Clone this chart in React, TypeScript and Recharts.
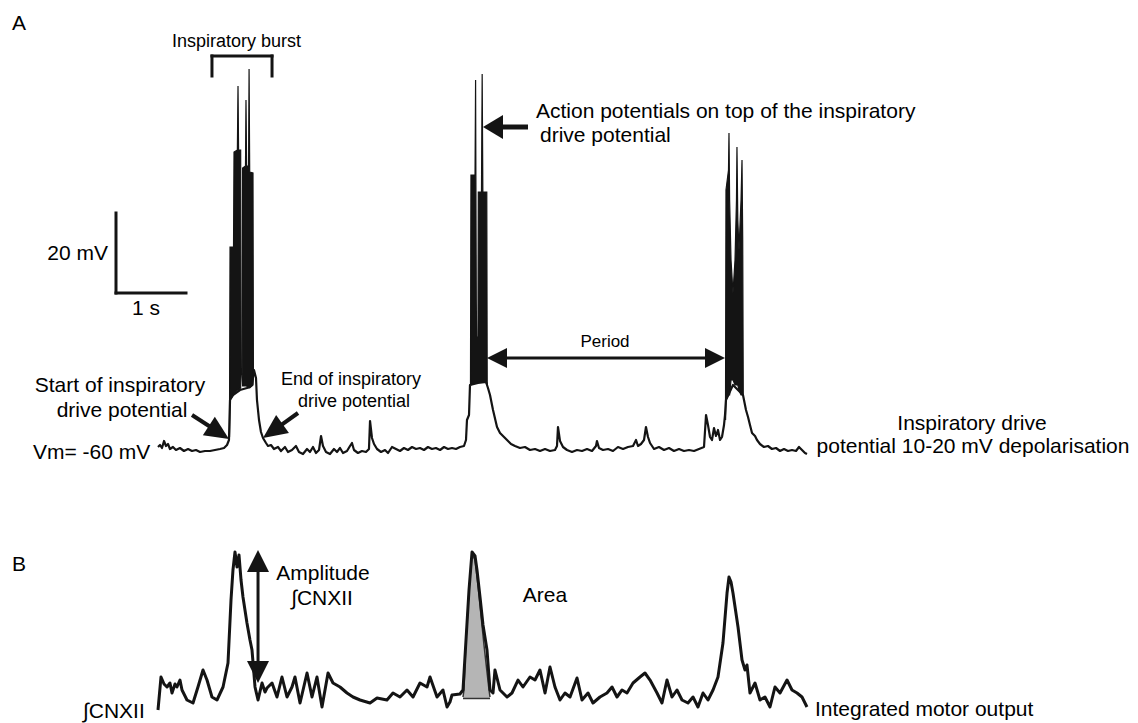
import React from 'react';
import { ComposedChart, Line, Area, XAxis, YAxis, ReferenceLine, ReferenceDot } from 'recharts';

const FONT = '"Liberation Sans", Arial, Helvetica, sans-serif';
const INK = '#141414';
const W = 1138;
const H = 723;

// axis domains: time (s), membrane potential (mV), integrated nerve output (a.u.)
const TIME_DOMAIN: [number, number] = [-2.2571, 14];
const MV_DOMAIN: [number, number] = [-128.25, 52.5];
const INT_DOMAIN: [number, number] = [-15.333, 466.667];

// Panel A: membrane potential trace [time s, mV]
const traceA: [number, number][] = [
  [0, -59.25], [0.029, -58.75], [0.057, -59.5], [0.086, -57.75], [0.114, -59], [0.143, -58.5],
  [0.171, -59.75], [0.214, -59.25], [0.257, -60], [0.314, -59.5], [0.371, -60.25], [0.429, -59.75],
  [0.486, -60.25], [0.543, -60], [0.6, -60.5], [0.671, -60.25], [0.743, -60.25], [0.814, -60],
  [0.886, -59.75], [0.943, -59.5], [0.986, -58.75], [1.014, -57.5], [1.029, -47.5], [1.071, -46.25],
  [1.171, -45], [1.271, -44.5], [1.343, -43.75], [1.371, -40], [1.4, -42], [1.414, -47.5],
  [1.443, -52.5], [1.471, -55.5], [1.5, -57], [1.543, -58.25], [1.571, -59], [1.614, -58.75],
  [1.657, -59.75], [1.714, -59.25], [1.757, -60.25], [1.814, -59.25], [1.857, -60.5], [1.914, -60],
  [1.971, -59], [2.014, -60.5], [2.071, -61], [2.129, -59.75], [2.171, -60.5], [2.214, -59.25],
  [2.257, -60.75], [2.3, -60], [2.329, -56.5], [2.357, -59], [2.4, -60.5], [2.457, -61],
  [2.514, -59.75], [2.557, -60.5], [2.6, -59.5], [2.643, -60.75], [2.7, -60.25], [2.743, -59],
  [2.771, -58.25], [2.8, -60], [2.857, -60.75], [2.914, -60.25], [2.971, -60.5], [3.014, -59.75],
  [3.029, -52.75], [3.057, -57], [3.086, -58.5], [3.129, -59.75], [3.186, -60.5], [3.243, -60],
  [3.286, -60.75], [3.343, -59.25], [3.4, -59.75], [3.457, -60.25], [3.514, -59.5], [3.571, -60],
  [3.629, -59.25], [3.686, -59.75], [3.743, -59.5], [3.8, -60], [3.857, -59.25], [3.914, -59.75],
  [3.971, -59.5], [4.029, -60], [4.086, -59.25], [4.143, -59.75], [4.2, -59.5], [4.257, -59.75],
  [4.314, -59.25], [4.371, -59], [4.4, -57.5], [4.414, -52.5], [4.443, -51.25], [4.457, -43.75],
  [4.571, -43.25], [4.686, -43], [4.714, -44.5], [4.743, -46.25], [4.786, -50], [4.843, -54.25],
  [4.886, -55.75], [4.943, -56.75], [4.986, -57.5], [5.043, -58.5], [5.1, -59], [5.171, -59.5],
  [5.243, -59.25], [5.314, -60], [5.386, -59.75], [5.457, -60.25], [5.529, -59.75], [5.6, -60.25],
  [5.671, -60], [5.7, -59], [5.714, -54.25], [5.743, -57.75], [5.786, -59.25], [5.843, -60],
  [5.914, -60.5], [5.986, -60], [6.057, -60.25], [6.129, -59.75], [6.2, -60.25], [6.257, -59],
  [6.271, -57.75], [6.3, -59.5], [6.357, -60], [6.429, -59.75], [6.5, -60.25], [6.571, -59.25],
  [6.643, -59.75], [6.714, -59.25], [6.786, -59], [6.829, -57.5], [6.857, -59], [6.9, -58.5],
  [6.943, -57.5], [6.971, -54.25], [7, -56.75], [7.029, -58.25], [7.086, -59.75], [7.157, -59.25],
  [7.229, -60], [7.3, -59.5], [7.371, -60.25], [7.443, -59.75], [7.514, -60.25], [7.586, -60],
  [7.657, -60.25], [7.729, -59.75], [7.8, -59.25], [7.829, -51.25], [7.857, -53.75], [7.886, -56.75],
  [7.914, -57.5], [7.943, -54.5], [7.971, -56.5], [8, -55], [8.029, -57.5], [8.057, -56.75],
  [8.086, -53.75], [8.1, -51.25], [8.114, -47.5], [8.214, -43.75], [8.357, -46.25], [8.4, -50],
  [8.429, -51.75], [8.457, -53.75], [8.486, -55.75], [8.529, -56.5], [8.557, -57.5], [8.6, -58.5],
  [8.657, -59.25], [8.714, -59], [8.771, -59.75], [8.829, -59.5], [8.886, -60.25], [8.943, -59.75],
  [9, -60.25], [9.057, -60], [9.114, -60.25], [9.157, -59.25], [9.2, -60], [9.243, -60.75], [9.271, -61],
];

// Panel A: spike bursts, envelope [time s, low mV, high mV]
const burst1: [number, number, number][] = [
  [1.021, -56.75, -56.75], [1.029, -47.5, -9.25], [1.079, -46.25, -9.25], [1.086, -45.75, 14.5],
  [1.134, -45, 15], [1.143, -45, 31], [1.151, -45, 15], [1.181, -44.5, 15], [1.187, -41, -41],
  [1.204, -41, -41], [1.209, -44, 10.5], [1.25, -44, 11], [1.257, -44, 27.5], [1.266, -44, 11],
  [1.294, -44.5, 11], [1.301, -44.5, 35.25], [1.31, -44.5, 9.5], [1.357, -43.75, 9.25], [1.363, -40.5, -40.5],
];
const burst2: [number, number, number][] = [
  [4.464, -43.75, -43.75], [4.471, -43.75, 8.75], [4.529, -43.25, 8.75], [4.537, -43.25, 32.5],
  [4.547, -43.25, -22.5], [4.551, -43.25, -31.75], [4.571, -43.25, -31.75], [4.576, -43, 4.5],
  [4.621, -43, 4.5], [4.631, -43, 34], [4.641, -43, 4.5], [4.697, -43.25, 4.5], [4.703, -43.75, -43.75],
];
const burst3: [number, number, number][] = [
  [8.107, -52.5, -52.5], [8.114, -47.5, 5], [8.15, -46.25, 10], [8.157, -46.25, 19.25],
  [8.166, -46.25, 2.5], [8.186, -42.5, -12.5], [8.214, -42.5, -20.75], [8.243, -43.75, -12.5],
  [8.264, -43.75, 2.5], [8.271, -43.75, 15.75], [8.283, -43.75, -2.5], [8.3, -45, -10],
  [8.329, -46.25, 2.5], [8.343, -46.25, 12.5], [8.353, -46.25, -7.5], [8.361, -46.25, -46.25],
];

// Panel B: integrated hypoglossal output [time s, a.u.]
const traceB: [number, number][] = [
  [0, -6.67], [0.043, 15.33], [0.086, 10.67], [0.129, 8.67], [0.171, 11.33], [0.2, 4.67],
  [0.243, 10.67], [0.271, 8.67], [0.314, 13.33], [0.343, 6.67], [0.414, 0], [0.5, -2],
  [0.571, 8.67], [0.643, 20], [0.7, 13.33], [0.771, 2], [0.843, 0], [0.929, 8.67],
  [1, 24.67], [1.043, 66.67], [1.071, 86.67], [1.1, 98.67], [1.129, 88.67], [1.157, 96.67],
  [1.186, 80], [1.214, 68.67], [1.271, 51.33], [1.314, 40], [1.343, 33.33], [1.386, 8.67],
  [1.429, 0], [1.486, 11.33], [1.529, 5.33], [1.557, 8], [1.629, 11.33], [1.7, 2],
  [1.771, 15.33], [1.843, 2], [1.914, 8.67], [1.957, 15.33], [2.029, -2], [2.129, 18],
  [2.2, 2], [2.271, 15.33], [2.343, -4.67], [2.429, 18], [2.5, 11.33], [2.6, 8.67],
  [2.7, 4.67], [2.786, 2], [2.886, 0], [3.029, -2], [3.129, 1.33], [3.271, 0],
  [3.357, 4.67], [3.457, 2], [3.557, 6.67], [3.643, 2], [3.743, 11.33], [3.843, 8.67],
  [3.886, 15.33], [3.986, 2], [4.071, 6.67], [4.129, -4.67], [4.171, -1.33], [4.2, 3.33],
  [4.314, 4], [4.357, 6.67], [4.4, 40], [4.443, 73.33], [4.486, 98.67], [4.529, 96],
  [4.557, 86.67], [4.6, 68.67], [4.643, 50], [4.7, 33.33], [4.743, 6.67], [4.786, 4.67],
  [4.814, 20], [4.886, 6.67], [4.986, 2], [5.057, 4.67], [5.143, 13.33], [5.214, 8.67],
  [5.314, 15.33], [5.386, 13.33], [5.457, 20], [5.529, 4.67], [5.6, 22], [5.671, 8.67],
  [5.743, 0], [5.814, 4.67], [5.886, 2], [5.986, 14.67], [6.057, 0], [6.143, 4.67],
  [6.214, -2], [6.314, 2], [6.414, 4.67], [6.486, 8.67], [6.557, 2], [6.629, 6.67],
  [6.7, 4.67], [6.786, 11.33], [6.886, 15.33], [6.957, 18], [7.029, 13.33], [7.129, 4.67],
  [7.2, -2], [7.271, 13.33], [7.343, 2], [7.414, 6.67], [7.486, 0], [7.571, -2],
  [7.643, 2], [7.714, -4.67], [7.786, 4.67], [7.857, 0], [7.929, 6.67], [8, 15.33],
  [8.071, 38], [8.129, 71.33], [8.157, 82], [8.186, 78.67], [8.214, 71.33], [8.286, 48.67],
  [8.343, 26.67], [8.386, 20], [8.414, 23.33], [8.457, 4.67], [8.529, 11.33], [8.6, 0],
  [8.671, 2], [8.743, -4.67], [8.814, 8.67], [8.886, 4.67], [8.986, 13.33], [9.057, 6.67],
  [9.129, 4.67], [9.2, 2], [9.271, -4.67],
];

// Panel B: shaded burst area [time s, low, high]
const areaB: [number, number, number][] = [
  [4.357, 1, 2], [4.371, 1, 6.67], [4.4, 1, 40], [4.443, 1, 73.33], [4.486, 1, 97.33],
  [4.529, 1, 93.33], [4.571, 1, 76.67], [4.614, 1, 56.67], [4.657, 1, 36.67], [4.7, 1, 18.67],
  [4.729, 1, 6.67], [4.743, 1, 2],
];

type Label = { text: string; t: number; y: number; anchor: 'start' | 'middle' | 'end'; size: number };

const labelsA: Label[] = [
  { text: 'A', t: -2.086, y: 45, anchor: 'start', size: 21 },
  { text: 'Inspiratory burst', t: 1.121, y: 40.75, anchor: 'middle', size: 18 },
  { text: '20 mV', t: -0.714, y: -12.5, anchor: 'end', size: 21 },
  { text: '1 s', t: -0.171, y: -26.25, anchor: 'middle', size: 21 },
  { text: 'Action potentials on top of the inspiratory', t: 5.4, y: 23, anchor: 'start', size: 21 },
  { text: 'drive potential', t: 5.457, y: 17, anchor: 'start', size: 21 },
  { text: 'Period', t: 6.386, y: -34.25, anchor: 'middle', size: 17 },
  { text: 'Start of inspiratory', t: -0.543, y: -45.5, anchor: 'middle', size: 21 },
  { text: 'drive potential', t: -0.514, y: -51.75, anchor: 'middle', size: 21 },
  { text: 'End of inspiratory', t: 2.757, y: -43.75, anchor: 'middle', size: 18 },
  { text: 'drive potential', t: 2.8, y: -49.25, anchor: 'middle', size: 18 },
  { text: 'Vm= -60 mV', t: -1.786, y: -62.25, anchor: 'start', size: 21 },
  { text: 'Inspiratory drive', t: 11.629, y: -55, anchor: 'middle', size: 21 },
  { text: 'potential 10-20 mV depolarisation', t: 11.643, y: -60.75, anchor: 'middle', size: 21 },
];

const labelsB: Label[] = [
  { text: 'B', t: -2.086, y: 86, anchor: 'start', size: 21 },
  { text: 'Amplitude', t: 2.357, y: 80, anchor: 'middle', size: 21 },
  { text: '\u222BCNXII', t: 2.343, y: 63.33, anchor: 'middle', size: 21 },
  { text: 'Area', t: 5.529, y: 65.33, anchor: 'middle', size: 21 },
  { text: '\u222BCNXII', t: -1.071, y: -12, anchor: 'start', size: 21 },
  { text: 'Integrated motor output', t: 9.386, y: -10.67, anchor: 'start', size: 21 },
];

type Arrow = {
  axis: 'A' | 'B'; from: [number, number]; to: [number, number];
  both: boolean; head: number; half: number; width: number;
};

const arrows: Arrow[] = [
  { axis: 'A', from: [5.286, 20.75], to: [4.643, 20.75], both: false, head: 20, half: 12, width: 5 },
  { axis: 'A', from: [4.7, -37], to: [8.1, -37], both: true, head: 20, half: 10, width: 3 },
  { axis: 'A', from: [0.486, -51.25], to: [1.014, -57.25], both: false, head: 24, half: 11, width: 4 },
  { axis: 'A', from: [2.0, -50.75], to: [1.5, -57], both: false, head: 24, half: 11, width: 4 },
  { axis: 'B', from: [1.429, 100], to: [1.429, 11.33], both: true, head: 22, half: 11, width: 3 },
];

// scale bar (1 s, 20 mV) and bracket over the first burst
const scaleBar: [number, number][][] = [
  [[-0.6, -0.75], [-0.6, -20.75]],
  [[-0.6, -20.75], [0.4, -20.75]],
];
const bracket: [number, number][][] = [
  [[0.771, 33.5], [0.771, 38.5]],
  [[0.771, 38.5], [1.629, 38.5]],
  [[1.629, 38.5], [1.629, 33.5]],
];

const pairs = (arr: [number, number][]) => arr.map(([t, v]) => ({ t, v }));
const ranges = (arr: [number, number, number][]) => arr.map(([t, lo, hi]) => ({ t, r: [lo, hi] }));

function arrowShape(a: Arrow) {
  return (p: any) => {
    const { x1, y1, x2, y2 } = p;
    const dx = x2 - x1;
    const dy = y2 - y1;
    const len = Math.hypot(dx, dy) || 1;
    const ux = dx / len;
    const uy = dy / len;
    const tri = (tx: number, ty: number, vx: number, vy: number) => {
      const bx = tx - vx * a.head;
      const by = ty - vy * a.head;
      return `${tx},${ty} ${bx - vy * a.half},${by + vx * a.half} ${bx + vy * a.half},${by - vx * a.half}`;
    };
    const sx = a.both ? x1 + ux * a.head * 0.8 : x1;
    const sy = a.both ? y1 + uy * a.head * 0.8 : y1;
    const ex = x2 - ux * a.head * 0.8;
    const ey = y2 - uy * a.head * 0.8;
    return (
      <g>
        <line x1={sx} y1={sy} x2={ex} y2={ey} stroke={INK} strokeWidth={a.width} />
        <polygon points={tri(x2, y2, ux, uy)} fill={INK} />
        {a.both && <polygon points={tri(x1, y1, -ux, -uy)} fill={INK} />}
      </g>
    );
  };
}

function renderLabels(labels: Label[], axis: 'A' | 'B') {
  return labels.map((l, i) => (
    <ReferenceDot
      key={`${axis}-lbl-${i}`}
      yAxisId={axis}
      x={l.t}
      y={l.y}
      r={0}
      ifOverflow="visible"
      shape={(p: any) => (
        <text x={p.cx} y={p.cy} textAnchor={l.anchor} fontSize={l.size} fontFamily={FONT} fill="#000">
          {l.text}
        </text>
      )}
    />
  ));
}

function renderSegments(segs: [number, number][][], axis: 'A' | 'B', key: string) {
  return segs.map((s, i) => (
    <ReferenceLine
      key={`${key}-${i}`}
      yAxisId={axis}
      segment={[{ x: s[0][0], y: s[0][1] }, { x: s[1][0], y: s[1][1] }]}
      stroke={INK}
      strokeWidth={3}
      strokeLinecap="square"
      ifOverflow="visible"
    />
  ));
}

export default function App() {
  return (
    <div style={{ position: 'absolute', left: 0, top: 0, width: W, height: H, background: '#fff' }}>
      <ComposedChart width={W} height={H} margin={{ top: 0, right: 0, bottom: 0, left: 0 }}>
        <XAxis type="number" dataKey="t" domain={TIME_DOMAIN} allowDataOverflow hide />
        <YAxis yAxisId="A" type="number" domain={MV_DOMAIN} allowDataOverflow hide />
        <YAxis yAxisId="B" type="number" domain={INT_DOMAIN} allowDataOverflow hide />

        <Line yAxisId="A" data={pairs(traceA)} dataKey="v" type="linear" stroke={INK} strokeWidth={2.2}
          strokeLinejoin="round" dot={false} activeDot={false} isAnimationActive={false} />
        {[burst1, burst2, burst3].map((b, i) => (
          <Area key={`burst-${i}`} yAxisId="A" data={ranges(b)} dataKey="r" type="linear" stroke={INK}
            strokeWidth={1.2} fill={INK} fillOpacity={1} dot={false} activeDot={false} isAnimationActive={false} />
        ))}

        <Area yAxisId="B" data={ranges(areaB)} dataKey="r" type="linear" stroke="#333" strokeWidth={1.5}
          fill="#b5b5b5" fillOpacity={1} dot={false} activeDot={false} isAnimationActive={false} />
        <Line yAxisId="B" data={pairs(traceB)} dataKey="v" type="linear" stroke={INK} strokeWidth={3}
          strokeLinejoin="round" dot={false} activeDot={false} isAnimationActive={false} />

        {renderSegments(scaleBar, 'A', 'scale')}
        {renderSegments(bracket, 'A', 'bracket')}

        {arrows.map((a, i) => (
          <ReferenceLine
            key={`arrow-${i}`}
            yAxisId={a.axis}
            segment={[{ x: a.from[0], y: a.from[1] }, { x: a.to[0], y: a.to[1] }]}
            ifOverflow="visible"
            shape={arrowShape(a)}
          />
        ))}

        {renderLabels(labelsA, 'A')}
        {renderLabels(labelsB, 'B')}
      </ComposedChart>
    </div>
  );
}
